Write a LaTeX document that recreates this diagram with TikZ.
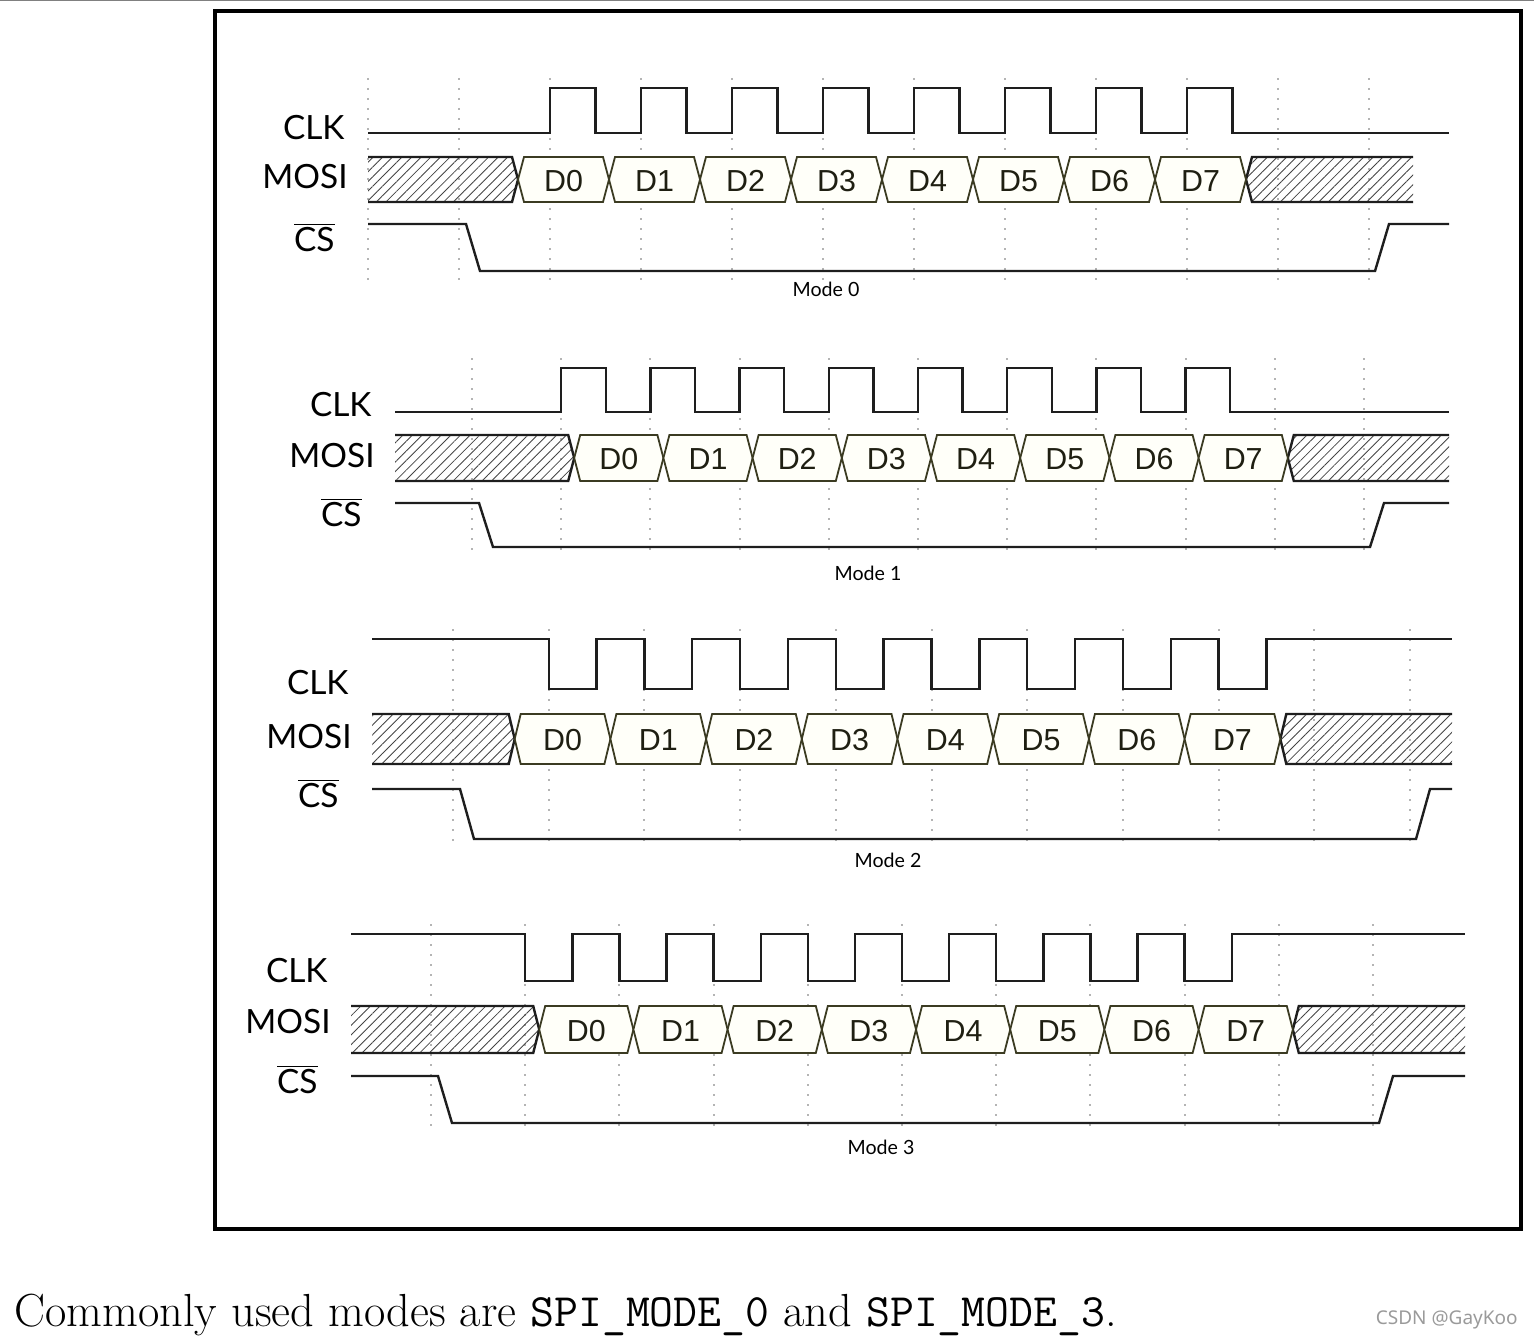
\documentclass[tikz,border=0pt]{standalone}
\usepackage{fontspec}
\newfontfamily\latofont{Lato}
\newfontfamily\arialfont{Liberation Sans}
\newfontfamily\notofont{Noto Sans}
\usetikzlibrary{patterns.meta}
\definecolor{wire}{HTML}{1E1E1E}
\definecolor{gridgray}{HTML}{B4B4B4}
\definecolor{cellline}{HTML}{3B3B22}
\definecolor{cellfill}{HTML}{FFFFF9}
\definecolor{celltext}{HTML}{1F1F12}
\definecolor{hatchgray}{HTML}{444444}
\definecolor{wmgray}{HTML}{9A9A9A}

\begin{document}
\begin{tikzpicture}[x=0.5pt,y=-0.5pt,
  wave/.style={draw=wire,line width=1.2pt},
  gridline/.style={draw=gridgray,line width=1pt,dash pattern=on 1pt off 4pt},
  hatchbox/.style={pattern={Lines[angle=45,distance=3.4pt,line width=0.42pt]},pattern color=hatchgray},
  databox/.style={draw=cellline,fill=cellfill,line width=0.9pt},
  sig/.style={font=\latofont\fontsize{16.7}{18}\selectfont,anchor=base east,inner sep=0pt},
  bit/.style={font=\arialfont\fontsize{15.2}{16}\selectfont,text=celltext,anchor=base,inner sep=0pt},
  modelbl/.style={font=\latofont\fontsize{9.8}{12}\selectfont,anchor=base,inner sep=0pt}]
\useasboundingbox (0,0) rectangle (1534,1338);
\draw[gray,line width=0.6pt] (0,0.8) -- (1534,0.8);
\draw[line width=2pt] (215,11) rectangle (1521,1229);
\foreach \m/\xs/\xe/\he/\g/\p/\gk/\off/\pol/\ch/\cl/\mt/\mb/\sh/\sl/\bc/\bm/\bs/\mx/\my in {
  0/368/1449/1413/459/91/-1/-32/0/88/133/157/202/224/271/139/188/251/826/296,
  1/395/1449/1449/472/89.2/0/13/0/368/412/435/481/503/547/416/467/526/868/580,
  2/372/1452/1452/453/95.7/0/-34/1/639/689/714/764/789/839/694/748/807/888/867,
  3/351/1465/1465/431/94.2/0/14/1/934/981/1006/1053/1076/1123/982/1033/1093/881/1154}{
  \pgfmathsetmacro\idle{\pol==0 ? \cl : \ch}
  \pgfmathsetmacro\act{\pol==0 ? \ch : \cl}
  \pgfmathsetmacro\md{(\mt+\mb)/2}
  \pgfmathsetmacro\cz{\g+\p+\off}
  \pgfmathsetmacro\ce{\cz+8*\p}
  \foreach \k in {\gk,...,10}{\draw[gridline] ({\g+(\k)*\p},{\ch-10}) -- ({\g+(\k)*\p},{\sl+9});}
  \draw[wave] (\xs,\idle) foreach \k in {1,...,8}{ -- ({\g+\k*\p},\idle) -- ({\g+\k*\p},\act) -- ({\g+\k*\p+\p/2},\act) -- ({\g+\k*\p+\p/2},\idle)} -- (\xe,\idle);
  \fill[hatchbox] (\xs,\mt) -- ({\cz-6},\mt) -- (\cz,\md) -- ({\cz-6},\mb) -- (\xs,\mb) -- cycle;
  \draw[wave] (\xs,\mt) -- ({\cz-6},\mt) -- (\cz,\md) -- ({\cz-6},\mb) -- (\xs,\mb);
  \fill[hatchbox] (\ce,\md) -- ({\ce+6},\mt) -- (\he,\mt) -- (\he,\mb) -- ({\ce+6},\mb) -- cycle;
  \draw[wave] (\he,\mt) -- ({\ce+6},\mt) -- (\ce,\md) -- ({\ce+6},\mb) -- (\he,\mb);
  \foreach \j in {0,...,7}{
    \draw[databox] ({\cz+\j*\p},\md) -- ({\cz+\j*\p+6},\mt) -- ({\cz+(\j+1)*\p-6},\mt) -- ({\cz+(\j+1)*\p},\md) -- ({\cz+(\j+1)*\p-6},\mb) -- ({\cz+\j*\p+6},\mb) -- cycle;
    \node[bit] (d\m-\j) at ({\cz+(\j+0.5)*\p},{\md+11.5}) {D\j};}
  \draw[wave] (\xs,\sh) -- ({\g+7},\sh) -- ({\g+21},\sl) -- ({\g+10*\p+6},\sl) -- ({\g+10*\p+20},\sh) -- (\xe,\sh);
  \node[sig] (clk\m) at ({\xs-23},\bc) {CLK};
  \node[sig] (mosi\m) at ({\xs-20},\bm) {MOSI};
  \node[sig] (cs\m) at ({\xs-33},\bs) {$\overline{\mbox{CS}}$};
  \node[modelbl] (mode\m) at (\mx,\my) {Mode \m};
}
\node[anchor=base west,inner sep=0pt,font=\fontsize{23.2}{28}\selectfont] (caption) at (14,1326) {Commonly used modes are \texttt{SPI\_MODE\_0} and \texttt{SPI\_MODE\_3}.};
\node[anchor=base east,inner sep=0pt,text=wmgray,font=\notofont\fontsize{9.5}{11}\selectfont] (mark) at (1518,1324) {CSDN @GayKoo};
\end{tikzpicture}
\end{document}
